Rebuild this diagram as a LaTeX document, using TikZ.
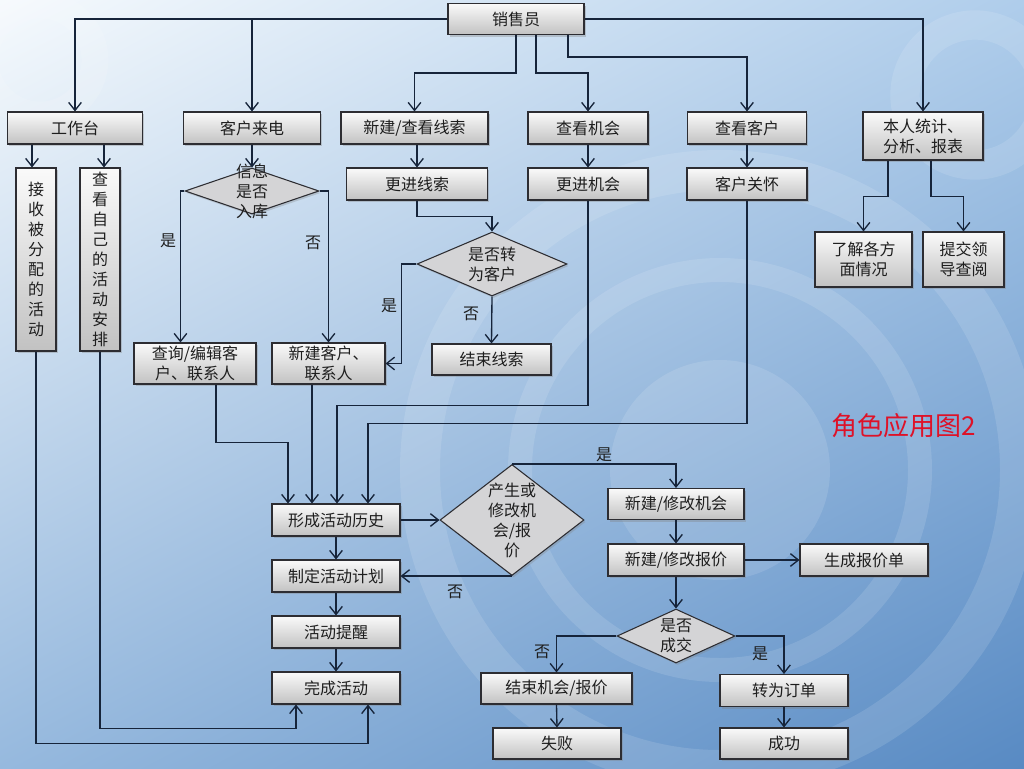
\documentclass[tikz,border=0pt]{standalone}
\usepackage{fontspec}
\setmainfont{Noto Sans CJK SC}
\usetikzlibrary{arrows.meta,shapes.geometric,shadows,calc,shadings}
\definecolor{lnc}{RGB}{22,36,58}
\definecolor{bdr}{RGB}{45,45,50}
\definecolor{txt}{RGB}{30,30,30}
\definecolor{ttl}{RGB}{222,18,40}
\definecolor{bgul}{RGB}{246,250,253}
\definecolor{bgur}{RGB}{175,205,235}
\definecolor{bgll}{RGB}{150,185,222}
\definecolor{bglr}{RGB}{88,138,195}
\definecolor{dfill}{RGB}{212,212,214}
\begin{document}
\begin{tikzpicture}[x=0.75pt,y=-0.75pt,
  font=\fontsize{12}{15}\selectfont,
  bx/.style 2 args={draw=bdr, line width=0.8pt, top color=white!96!gray, bottom color=gray!48,
    minimum width=#1*0.75pt, minimum height=#2*0.75pt, inner sep=1pt, align=center, text=txt,
    drop shadow={shadow xshift=1.2pt, shadow yshift=-1.5pt, opacity=0.35}},
  dia/.style 2 args={diamond, draw=bdr, line width=0.8pt, fill=dfill,
    minimum width=#1*0.75pt, minimum height=#2*0.75pt, inner sep=0pt,
    drop shadow={shadow xshift=1.2pt, shadow yshift=-1.5pt, opacity=0.3}},
  dtext/.style={align=center, text=txt, inner sep=0pt},
  arr/.style={draw=lnc, line width=1pt, -{Straight Barb[length=6pt,width=9.5pt,line width=1pt]}},
  lab/.style={text=txt, font=\fontsize{12}{14}\selectfont, inner sep=0pt}]
\useasboundingbox (0,0) rectangle (1024,768);
% background
\shade[upper left=bgul, upper right=bgur, lower left=bgll, lower right=bglr]
  (0,0) rectangle (1024,768);
\begin{scope}[white, opacity=0.12]
  \draw[line width=30pt] (720,470) circle (300);
  \draw[line width=18pt] (720,470) circle (200);
  \fill (720,470) circle (110);
  \draw[line width=22pt] (975,95) circle (70);
  \draw[line width=20pt] (40,60) circle (55);
\end{scope}
% nodes
\node[bx={136}{31}] (sales) at (516,19) {销售员};
\node[bx={135}{32}] (gzt) at (75,128) {工作台};
\node[bx={137}{32}] (khld) at (252,128) {客户来电};
\node[bx={147}{32}] (xjxs) at (414.5,128) {新建/查看线索};
\node[bx={120}{32}] (ckjh) at (588,128) {查看机会};
\node[bx={119}{32}] (ckkh) at (747,128) {查看客户};
\node[bx={120}{48}] (brtj) at (923,136) {本人统计、\\分析、报表};
\node[bx={141}{32}] (gjxs) at (417,184) {更进线索};
\node[bx={120}{32}] (gjjh) at (588,184) {更进机会};
\node[bx={120}{32}] (khgh) at (747,184) {客户关怀};
\node[bx={97}{55}] (ljgf) at (863.5,259.5) {了解各方\\面情况};
\node[bx={81}{55}] (tjld) at (963.5,259.5) {提交领\\导查阅};
\node[bx={40}{183}, text width=14pt] (js) at (36,259.5) {接\\收\\被\\分\\配\\的\\活\\动};
\node[bx={40}{183}, text width=14pt] (ck) at (100,259.5) {查\\看\\自\\己\\的\\活\\动\\安\\排};
\node[dia={134}{46}, label={[dtext]center:信息\\是否\\入库}] (xxsf) at (252,191) {};
\node[dia={150}{64}, label={[dtext]center:是否转\\为客户}] (sfzw) at (492,264) {};
\node[bx={122}{41}] (cx) at (195,363.5) {查询/编辑客\\户、联系人};
\node[bx={113}{41}] (xjkh) at (328.5,363.5) {新建客户、\\联系人};
\node[bx={119}{31}] (jsxs) at (491.5,359.5) {结束线索};
\node[bx={128}{32}] (xcls) at (336,520) {形成活动历史};
\node[bx={128}{32}] (zdjh) at (336,576) {制定活动计划};
\node[bx={128}{32}] (hdtx) at (336,632) {活动提醒};
\node[bx={128}{32}] (wchd) at (336,688) {完成活动};
\node[dia={144}{111}, label={[dtext]center:产生或\\修改机\\会/报\\价}] (cs) at (512,520) {};
\node[bx={136}{31}] (xjjh) at (676,504) {新建/修改机会};
\node[bx={136}{32}] (xjbj) at (676,560) {新建/修改报价};
\node[bx={128}{32}] (scbj) at (864,560) {生成报价单};
\node[dia={118}{54}, label={[dtext]center:是否\\成交}] (sfcj) at (676,636) {};
\node[bx={151}{31}] (jsjh) at (556.5,688.5) {结束机会/报价};
\node[bx={128}{31}] (sb) at (557,743.5) {失败};
\node[bx={128}{32}] (zwdd) at (784,690.5) {转为订单};
\node[bx={128}{31}] (cg) at (784,743.5) {成功};
\node[text=ttl, font=\fontsize{19.5}{22}\selectfont, inner sep=0pt] (title) at (904,426) {角色应用图2};
% connectors from 销售员
\draw[arr] (sales.west) -| (gzt.north);
\draw[arr] (sales.west -| khld.north) -- (khld.north);
\draw[arr] (sales.south) -- ++(0,38) -| (xjxs.north);
\draw[arr] ($(sales.south)+(20,0)$) -- ++(0,38) -| (ckjh.north);
\draw[arr] ($(sales.south)+(52,0)$) -- ++(0,22) -| (ckkh.north);
\draw[arr] (sales.east) -| (brtj.north);
% 工作台
\draw[arr] ($(gzt.south)+(-43,0)$) -- ($(js.north)+(-4,0)$);
\draw[arr] ($(gzt.south)+(29,0)$) -- ($(ck.north)+(4,0)$);
\draw[arr] (js.south) |- ($(wchd.south)+(32,39)$) -- ($(wchd.south)+(32,0)$);
\draw[arr] (ck.south) |- ($(wchd.south)+(-40,24)$) -- ($(wchd.south)+(-40,0)$);
% 客户来电
\draw[arr] (khld.south) -- (xxsf.north);
\draw[arr] (xxsf.west) -- ++(-4,0) coordinate (xl) -- (xl |- cx.north);
\draw[arr] (xxsf.east) -| (xjkh.north);
\node[lab] (l1) at (168,241) {是};
\node[lab] (l2) at (313,243) {否};
% 线索
\draw[arr] (xjxs.south -| gjxs.north) -- (gjxs.north);
\draw[arr] (gjxs.south) -- ++(0,16) -| (sfzw.north);
\draw[arr] (sfzw.west) -| ($(xjkh.east)+(16,0)$) -- (xjkh.east);
\draw[arr] (sfzw.south) -- (jsxs.north);
\node[lab] (l3) at (389,306) {是};
\node[lab] (l4) at (471,314) {否};
% 机会 / 客户
\draw[arr] (ckjh.south) -- (gjjh.north);
\draw[arr] (ckkh.south) -- (khgh.north);
\draw[arr] ($(brtj.south)+(-35,0)$) -- ++(0,36) -| (ljgf.north);
\draw[arr] ($(brtj.south)+(8,0)$) -- ++(0,36) -| (tjld.north);
\draw[arr] (gjjh.south) |- ($(xcls.north)+(1,-98)$) -- ($(xcls.north)+(1,0)$);
\draw[arr] (khgh.south) |- ($(xcls.north)+(32,-80)$) -- ($(xcls.north)+(32,0)$);
\draw[arr] ($(cx.south)+(21,0)$) |- ($(xcls.north)+(-48,-61)$) -- ($(xcls.north)+(-48,0)$);
\draw[arr] ($(xjkh.south)+(-16.5,0)$) -- ($(xcls.north)+(-24,0)$);
% 活动
\draw[arr] (xcls.east) -- (cs.west);
\draw[arr] (xcls.south) -- (zdjh.north);
\draw[arr] (zdjh.south) -- (hdtx.north);
\draw[arr] (hdtx.south) -- (wchd.north);
\draw[arr] (cs.south) -- (cs.south -| zdjh.east);
\node[lab] (l5) at (455,592) {否};
\draw[arr] (cs.north) -| (xjjh.north);
\node[lab] (l6) at (604,455) {是};
% 报价
\draw[arr] (xjjh.south) -- (xjbj.north);
\draw[arr] (xjbj.east) -- (scbj.west);
\draw[arr] (xjbj.south) -- (sfcj.north);
\draw[arr] (sfcj.west) -| (jsjh.north);
\draw[arr] (sfcj.east) -| (zwdd.north);
\node[lab] (l7) at (542,652) {否};
\node[lab] (l8) at (760,654) {是};
\draw[arr] (jsjh.south) -- (sb.north);
\draw[arr] (zwdd.south) -- (cg.north);
\end{tikzpicture}
\end{document}
